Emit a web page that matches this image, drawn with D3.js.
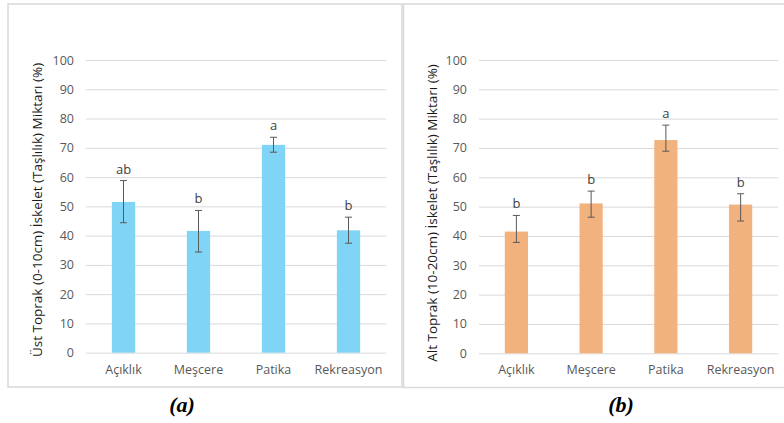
<!DOCTYPE html>
<html>
<head>
<meta charset="utf-8">
<script src="https://cdn.jsdelivr.net/npm/d3@7"></script>
<style>
  html, body { margin: 0; padding: 0; background: #fff; }
  svg { display: block; }
</style>
</head>
<body>
<svg id="chart" width="784" height="423"></svg>
<script>
// Soil skeleton (stoniness) share by site type, two soil depths
const categories = ["Açıklık", "Meşcere", "Patika", "Rekreasyon"];
const yTicks = [0, 10, 20, 30, 40, 50, 60, 70, 80, 90, 100];

// Upper soil (0-10 cm)
const topValues = [51.5, 41.6, 71.0, 41.8];
const topErrPlus = [7.3, 7.0, 2.6, 4.5];
const topErrMinus = [7.1, 7.2, 2.5, 4.4];
const topLetters = ["ab", "b", "a", "b"];

// Lower soil (10-20 cm)
const subValues = [41.5, 51.1, 72.7, 50.7];
const subErrPlus = [5.5, 4.2, 5.1, 3.7];
const subErrMinus = [3.7, 4.7, 3.8, 5.6];
const subLetters = ["b", "b", "a", "b"];

const svg = d3.select("#chart");
const FONT = "'Open Sans', 'Liberation Sans', sans-serif";

function panel(opt) {
  const g = svg.append("g");

  // panel frame
  g.append("rect")
    .attr("x", opt.frame[0]).attr("y", opt.frame[1])
    .attr("width", opt.frame[2]).attr("height", opt.frame[3])
    .attr("fill", "none").attr("stroke", "#d9d9d9").attr("stroke-width", 1.5);

  const x = d3.scaleBand().domain(categories)
    .range([opt.left, opt.right]).paddingInner(0.69).paddingOuter(0.345);
  const y = d3.scaleLinear().domain([0, 100]).range([opt.bottom, opt.top]);

  // horizontal gridlines via axis
  const grid = g.append("g").attr("transform", `translate(${opt.left},0)`)
    .call(d3.axisRight(y).tickValues(yTicks).tickSize(opt.right - opt.left).tickFormat(""));
  grid.select(".domain").remove();
  grid.selectAll("line").attr("stroke", "#d9d9d9").attr("stroke-width", 1);

  // y tick labels
  const ya = g.append("g").attr("transform", `translate(${opt.left - 12},0)`)
    .call(d3.axisLeft(y).tickValues(yTicks).tickSize(0).tickPadding(0));
  ya.select(".domain").remove();
  ya.selectAll("text").attr("font-family", FONT).attr("font-size", 12.5)
    .attr("fill", "#595959");

  // x category labels
  const xa = g.append("g").attr("transform", `translate(0,${opt.bottom})`)
    .call(d3.axisBottom(x).tickSize(0).tickPadding(12));
  xa.select(".domain").remove();
  xa.selectAll("text").attr("font-family", FONT).attr("font-size", 12.5)
    .attr("fill", "#595959");

  // bars
  g.append("g").selectAll("rect").data(opt.values).join("rect")
    .attr("x", (d, i) => x(categories[i]))
    .attr("width", x.bandwidth())
    .attr("y", d => y(d))
    .attr("height", d => y(0) - y(d))
    .attr("fill", opt.color);

  // error bars
  const eb = g.append("g").attr("stroke", "#595959").attr("stroke-width", 1);
  opt.values.forEach((v, i) => {
    const cx = x(categories[i]) + x.bandwidth() / 2;
    const hi = y(v + opt.errPlus[i]), lo = y(v - opt.errMinus[i]);
    eb.append("line").attr("x1", cx).attr("x2", cx).attr("y1", hi).attr("y2", lo);
    eb.append("line").attr("x1", cx - 3.5).attr("x2", cx + 3.5).attr("y1", hi).attr("y2", hi);
    eb.append("line").attr("x1", cx - 3.5).attr("x2", cx + 3.5).attr("y1", lo).attr("y2", lo);
  });

  // significance letters
  g.append("g").selectAll("text").data(opt.letters).join("text")
    .attr("x", (d, i) => x(categories[i]) + x.bandwidth() / 2)
    .attr("y", (d, i) => y(opt.values[i] + opt.errPlus[i]) - 7)
    .attr("text-anchor", "middle")
    .attr("font-family", FONT).attr("font-size", 13).attr("fill", "#404040")
    .text(d => d);

  // y axis title
  g.append("text")
    .attr("transform", `translate(${opt.titleX},${opt.titleY}) rotate(-90)`)
    .attr("text-anchor", "middle")
    .attr("font-family", FONT).attr("font-size", 13.5).attr("fill", "#1a1a1a")
    .text(opt.title);

  // panel caption
  g.append("text")
    .attr("x", opt.capX).attr("y", 412)
    .attr("text-anchor", "middle")
    .attr("font-family", "'Liberation Serif', 'Times New Roman', serif")
    .attr("font-size", 22).attr("font-weight", "bold").attr("font-style", "italic")
    .attr("fill", "#000")
    .text(opt.caption);
}

panel({
  frame: [8, 4, 394, 383],
  left: 86, right: 386, top: 60, bottom: 352.7,
  values: topValues, errPlus: topErrPlus, errMinus: topErrMinus, letters: topLetters,
  color: "#80d4f6",
  title: "Üst Toprak (0-10cm) İskelet (Taşlılık) Miktarı (%)",
  titleX: 42, titleY: 210,
  caption: "(a)", capX: 182
});

panel({
  frame: [403.5, 4, 395, 383.5],
  left: 479, right: 778, top: 60, bottom: 353.3,
  values: subValues, errPlus: subErrPlus, errMinus: subErrMinus, letters: subLetters,
  color: "#f1b27e",
  title: "Alt Toprak (10-20cm) İskelet (Taşlılık) Miktarı (%)",
  titleX: 437, titleY: 213,
  caption: "(b)", capX: 621
});
</script>
</body>
</html>
